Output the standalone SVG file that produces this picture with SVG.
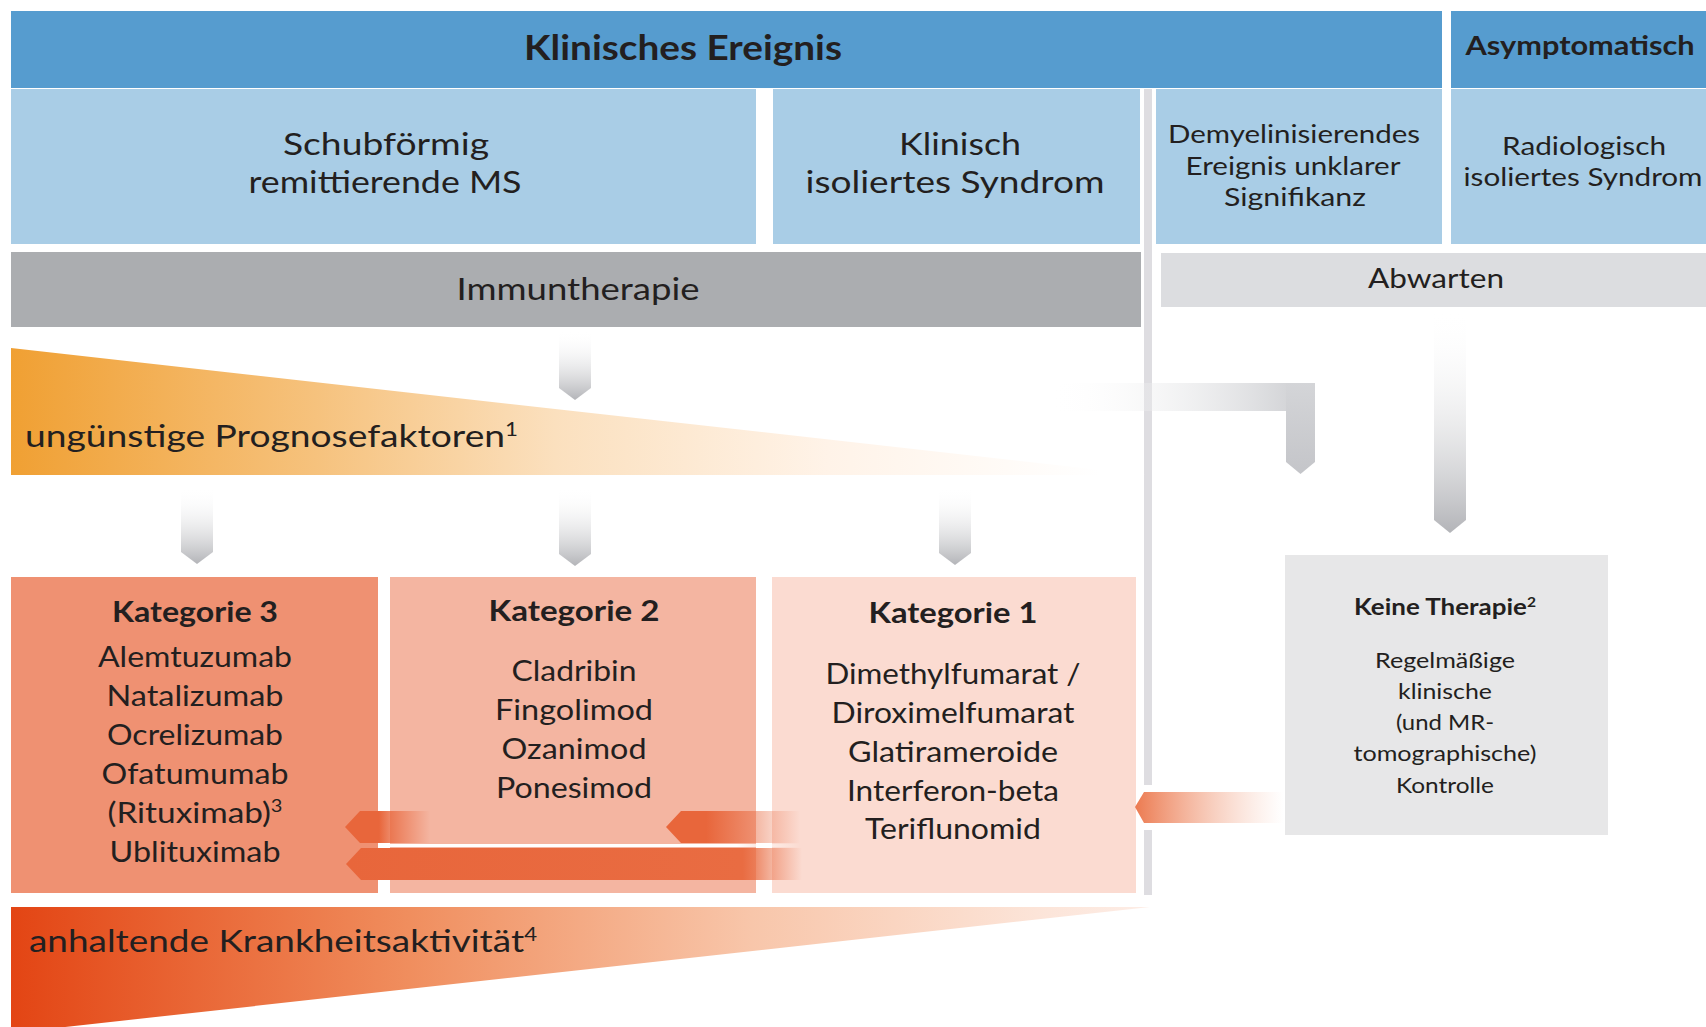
<svg xmlns="http://www.w3.org/2000/svg" width="1706" height="1027" viewBox="0 0 1706 1027">
<style>
text{font-family:Lato,"Open Sans","Liberation Sans",sans-serif;fill:#231f20;text-anchor:middle}
.b{font-weight:bold}
.l{text-anchor:start}
.hdr{fill:#569ccf}
.lb{fill:#a9cde6}
.sup{font-size:60%}
</style>
<defs>
<linearGradient id="gv" x1="0" y1="0" x2="0" y2="1"><stop offset="0" stop-color="#ffffff" stop-opacity="0"/><stop offset="1" stop-color="#b3b4b8"/></linearGradient>
<linearGradient id="gh" x1="0" y1="0" x2="1" y2="0"><stop offset="0" stop-color="#ffffff" stop-opacity="0"/><stop offset="1" stop-color="#d3d4d7"/></linearGradient>
<linearGradient id="gL" x1="0" y1="0" x2="0" y2="1"><stop offset="0" stop-color="#d4d5d8"/><stop offset="1" stop-color="#c4c5c9"/></linearGradient>
<linearGradient id="wt" gradientUnits="userSpaceOnUse" x1="11" y1="0" x2="1100" y2="0"><stop offset="0" stop-color="#f0a033"/><stop offset="0.28" stop-color="#f6c27d"/><stop offset="0.5" stop-color="#fbe0be"/><stop offset="0.75" stop-color="#fff3e8"/><stop offset="1" stop-color="#ffffff"/></linearGradient>
<linearGradient id="wb" gradientUnits="userSpaceOnUse" x1="11" y1="0" x2="1150" y2="0"><stop offset="0" stop-color="#e34514"/><stop offset="0.35" stop-color="#f08e5e"/><stop offset="0.65" stop-color="#f8c6aa"/><stop offset="0.9" stop-color="#fce4d8"/><stop offset="1" stop-color="#fdede6"/></linearGradient>
<linearGradient id="o1" gradientUnits="userSpaceOnUse" x1="345" y1="0" x2="430" y2="0"><stop offset="0" stop-color="#e8663b"/><stop offset="0.4" stop-color="#e8663b"/><stop offset="1" stop-color="#e8663b" stop-opacity="0"/></linearGradient>
<linearGradient id="o2" gradientUnits="userSpaceOnUse" x1="666" y1="0" x2="800" y2="0"><stop offset="0" stop-color="#e8663b"/><stop offset="0.3" stop-color="#e8663b"/><stop offset="1" stop-color="#e8663b" stop-opacity="0"/></linearGradient>
<linearGradient id="o3" gradientUnits="userSpaceOnUse" x1="346" y1="0" x2="802" y2="0"><stop offset="0" stop-color="#e8663b"/><stop offset="0.87" stop-color="#e96c42"/><stop offset="1" stop-color="#e96c42" stop-opacity="0"/></linearGradient>
<linearGradient id="o4" gradientUnits="userSpaceOnUse" x1="1135" y1="0" x2="1283" y2="0"><stop offset="0" stop-color="#ec7a50"/><stop offset="1" stop-color="#f4b49a" stop-opacity="0"/></linearGradient>
<linearGradient id="wl" gradientUnits="userSpaceOnUse" x1="378" y1="0" x2="800" y2="0"><stop offset="0" stop-color="#ffffff"/><stop offset="0.85" stop-color="#ffffff"/><stop offset="1" stop-color="#ffffff" stop-opacity="0"/></linearGradient>
</defs>
<rect width="1706" height="1027" fill="#ffffff"/>

<g id="klinisches-ereignis">
<rect class="hdr" x="11" y="11" width="1431" height="77"/>
<text class="b" x="683" y="60" font-size="34" textLength="318" lengthAdjust="spacingAndGlyphs">Klinisches Ereignis</text>
</g>
<g id="asymptomatisch">
<rect class="hdr" x="1451" y="11" width="255" height="77"/>
<text class="b" x="1580" y="55" font-size="27" textLength="229" lengthAdjust="spacingAndGlyphs">Asymptomatisch</text>
</g>
<g id="rrms">
<rect class="lb" x="11" y="89" width="745" height="155"/>
<text x="386" y="155" font-size="31" textLength="206" lengthAdjust="spacingAndGlyphs">Schubförmig</text>
<text x="385" y="193" font-size="31" textLength="273" lengthAdjust="spacingAndGlyphs">remittierende MS</text>
</g>
<g id="cis">
<rect class="lb" x="773" y="89" width="367" height="155"/>
<text x="960" y="155" font-size="31" textLength="122" lengthAdjust="spacingAndGlyphs">Klinisch</text>
<text x="955" y="193" font-size="31" textLength="299" lengthAdjust="spacingAndGlyphs">isoliertes Syndrom</text>
</g>
<g id="demyelin">
<rect class="lb" x="1156" y="89" width="286" height="155"/>
<text x="1294" y="143" font-size="25.5" textLength="252" lengthAdjust="spacingAndGlyphs">Demyelinisierendes</text>
<text x="1293" y="175" font-size="25.5" textLength="215" lengthAdjust="spacingAndGlyphs">Ereignis unklarer</text>
<text x="1295" y="206" font-size="25.5" textLength="142" lengthAdjust="spacingAndGlyphs">Signifikanz</text>
</g>
<g id="ris">
<rect class="lb" x="1451" y="89" width="255" height="155"/>
<text x="1584" y="155" font-size="25.5" textLength="164" lengthAdjust="spacingAndGlyphs">Radiologisch</text>
<text x="1583" y="186" font-size="25.5" textLength="239" lengthAdjust="spacingAndGlyphs">isoliertes Syndrom</text>
</g>
<g id="divider">
<rect x="1144" y="89" width="8" height="806" fill="#dedde1"/>
</g>
<g id="immuntherapie">
<rect x="11" y="252" width="1130" height="75" fill="#abadb0"/>
<text x="578" y="300" font-size="31" textLength="243" lengthAdjust="spacingAndGlyphs">Immuntherapie</text>
</g>
<g id="abwarten">
<rect x="1161" y="253" width="545" height="54" fill="#dcdde0"/>
<text x="1436" y="288" font-size="27" textLength="136" lengthAdjust="spacingAndGlyphs">Abwarten</text>
</g>
<g id="prognosefaktoren">
<polygon points="11,348 1145,475 11,475" fill="url(#wt)"/>
<text class="l" x="25" y="447" font-size="31" textLength="493" lengthAdjust="spacingAndGlyphs">ungünstige Prognosefaktoren<tspan class="sup" dy="-11">1</tspan></text>
</g>
<g id="kategorie3">
<rect x="11" y="577" width="367" height="316" fill="#ef9172"/>
<text class="b" x="195" y="622" font-size="28" textLength="166" lengthAdjust="spacingAndGlyphs">Kategorie 3</text>
<text x="195" y="667" font-size="29" textLength="194" lengthAdjust="spacingAndGlyphs">Alemtuzumab</text>
<text x="195" y="706" font-size="29" textLength="177" lengthAdjust="spacingAndGlyphs">Natalizumab</text>
<text x="195" y="745" font-size="29" textLength="176" lengthAdjust="spacingAndGlyphs">Ocrelizumab</text>
<text x="195" y="784" font-size="29" textLength="187" lengthAdjust="spacingAndGlyphs">Ofatumumab</text>
<text x="195" y="823" font-size="29" textLength="175" lengthAdjust="spacingAndGlyphs">(Rituximab)<tspan class="sup" dy="-11">3</tspan></text>
<text x="195" y="862" font-size="29" textLength="171" lengthAdjust="spacingAndGlyphs">Ublituximab</text>
</g>
<g id="kategorie2">
<rect x="390" y="577" width="366" height="316" fill="#f4b5a1"/>
<text class="b" x="574" y="621" font-size="28" textLength="171" lengthAdjust="spacingAndGlyphs">Kategorie 2</text>
<text x="574" y="681" font-size="29" textLength="125" lengthAdjust="spacingAndGlyphs">Cladribin</text>
<text x="574" y="720" font-size="29" textLength="158" lengthAdjust="spacingAndGlyphs">Fingolimod</text>
<text x="574" y="759" font-size="29" textLength="145" lengthAdjust="spacingAndGlyphs">Ozanimod</text>
<text x="574" y="798" font-size="29" textLength="156" lengthAdjust="spacingAndGlyphs">Ponesimod</text>
</g>
<g id="kategorie1">
<rect x="772" y="577" width="364" height="316" fill="#fbdbd1"/>
<text class="b" x="953" y="623" font-size="28" textLength="169" lengthAdjust="spacingAndGlyphs">Kategorie 1</text>
<text x="953" y="684" font-size="29" textLength="255" lengthAdjust="spacingAndGlyphs">Dimethylfumarat /</text>
<text x="953" y="723" font-size="29" textLength="243" lengthAdjust="spacingAndGlyphs">Diroximelfumarat</text>
<text x="953" y="762" font-size="29" textLength="210" lengthAdjust="spacingAndGlyphs">Glatirameroide</text>
<text x="953" y="801" font-size="29" textLength="212" lengthAdjust="spacingAndGlyphs">Interferon-beta</text>
<text x="953" y="839" font-size="29" textLength="176" lengthAdjust="spacingAndGlyphs">Teriflunomid</text>
</g>
<g id="keine-therapie">
<rect x="1285" y="555" width="323" height="280" fill="#e7e7e8"/>
<text class="b" x="1445" y="615" font-size="22" textLength="182" lengthAdjust="spacingAndGlyphs">Keine Therapie<tspan class="sup" dy="-8">2</tspan></text>
<text x="1445" y="668" font-size="22" textLength="140" lengthAdjust="spacingAndGlyphs">Regelmäßige</text>
<text x="1445" y="699" font-size="22" textLength="94" lengthAdjust="spacingAndGlyphs">klinische</text>
<text x="1445" y="730" font-size="22" textLength="98" lengthAdjust="spacingAndGlyphs">(und MR-</text>
<text x="1445" y="761" font-size="22" textLength="183" lengthAdjust="spacingAndGlyphs">tomographische)</text>
<text x="1445" y="793" font-size="22" textLength="98" lengthAdjust="spacingAndGlyphs">Kontrolle</text>
</g>
<g id="krankheitsaktivitaet">
<polygon points="11,907 1150,907 11,1033" fill="url(#wb)"/>
<text class="l" x="29" y="952" font-size="31" textLength="508" lengthAdjust="spacingAndGlyphs">anhaltende Krankheitsaktivität<tspan class="sup" dy="-11">4</tspan></text>
</g>

<g id="connectors">
<path d="M559,330 H591 V388 L575,400 L559,388 Z" fill="url(#gv)"/>
<path d="M181,487 H213 V552 L197,564 L181,552 Z" fill="url(#gv)"/>
<path d="M559,487 H591 V554 L575,566 L559,554 Z" fill="url(#gv)"/>
<path d="M939,487 H971 V553 L955,565 L939,553 Z" fill="url(#gv)"/>
<path d="M1434,310 H1466 V520 L1450,533 L1434,520 Z" fill="url(#gv)"/>
<rect x="1050" y="383" width="240" height="28" fill="url(#gh)"/>
<path d="M1286,383 H1315 V462 L1300.5,474 L1286,462 Z" fill="url(#gL)"/>
<path d="M345,827 L360,811 H430 V843 H360 Z" fill="url(#o1)"/>
<path d="M666,827 L681,811 H800 V843 H681 Z" fill="url(#o2)"/>
<rect x="378" y="844" width="422" height="3" fill="url(#wl)"/>
<path d="M346,864 L361,848 H802 V880 H361 Z" fill="url(#o3)"/>
<rect x="1138" y="785" width="16" height="45" fill="#ffffff"/>
<path d="M1135,807 L1144,792 H1283 V823 H1144 Z" fill="url(#o4)"/>
</g>
</svg>
